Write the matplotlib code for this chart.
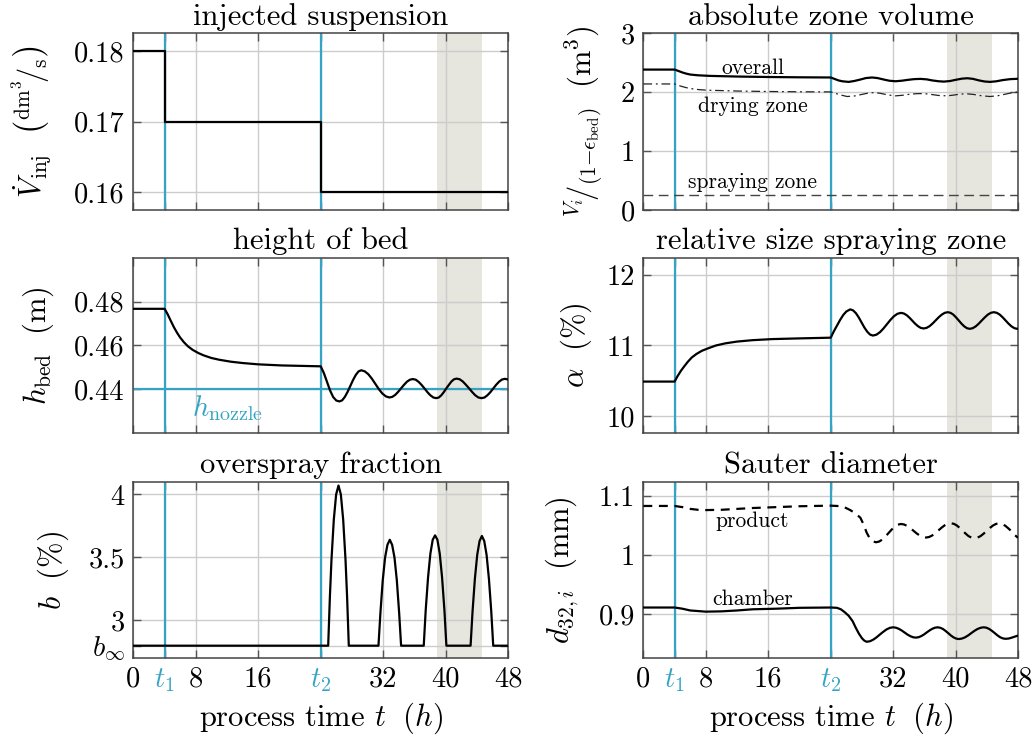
"""Fluidized bed granulation: process time series for six quantities."""
import matplotlib
matplotlib.use("Agg")
import matplotlib.pyplot as plt

plt.rcParams["font.family"] = "serif"
plt.rcParams["font.serif"] = ["cmr10"]
plt.rcParams["mathtext.fontset"] = "cm"
plt.rcParams["axes.formatter.use_mathtext"] = True
plt.rcParams["axes.unicode_minus"] = False

CYAN = "#35a4c4"
SHADE = "#e6e6df"
GRID = "#cccccc"
TICK = "#555555"

# characteristic times (h) and the highlighted window
T1, T2 = 4, 24
WINDOW = (38.9, 44.7)
XTICKS = [0, 4, 8, 16, 24, 32, 40, 48]
XTICKLABELS = ["0", "$t_1$", "8", "16", "$t_2$", "32", "40", "48"]

# injected suspension (dm^3/s)
SUSP_T = [0, 4, 4, 24, 24, 48]
SUSP_V = [0.18, 0.18, 0.17, 0.17, 0.16, 0.16]

# height of bed (m)
H_NOZZLE = 0.44
HBED_T = [0, 4, 4.4, 4.8, 5.2, 5.6, 6.0, 6.5, 7.0, 7.6, 8.3, 9.0, 10.0, 11.0, 12.5, 14.0, 16.0, 19.0,
          24.0, 24.4, 24.8, 25.2, 25.6, 26.0, 26.4, 26.75, 27.1, 27.45, 27.8, 28.15, 28.5, 28.85, 29.2,
          29.65, 30.1, 30.55, 31.0, 31.45, 31.9, 32.35, 32.8, 33.18, 33.55, 33.93, 34.3, 34.68, 35.05,
          35.43, 35.8, 36.18, 36.55, 36.93, 37.3, 37.68, 38.05, 38.43, 38.8, 39.13, 39.45, 39.78, 40.1,
          40.43, 40.75, 41.08, 41.4, 41.8, 42.2, 42.6, 43.0, 43.4, 43.8, 44.2, 44.6, 44.98, 45.35, 45.73,
          46.1, 46.48, 46.85, 47.23, 47.6, 48.0]
HBED_V = [0.4767, 0.4767, 0.4742, 0.4712, 0.4683, 0.4658, 0.4636, 0.4614, 0.4596, 0.458, 0.4566, 0.4555,
          0.4543, 0.4535, 0.4526, 0.452, 0.4514, 0.4509,
          0.4505, 0.4475, 0.4435, 0.4395, 0.4365, 0.4349, 0.4345, 0.4350, 0.4366, 0.4389, 0.4416, 0.4443,
          0.4466, 0.4482, 0.4487, 0.4482, 0.4469, 0.4449, 0.4425, 0.4401, 0.4381, 0.4368, 0.4363, 0.4366,
          0.4375, 0.4389, 0.4405, 0.4421, 0.4435, 0.4444, 0.4447, 0.4444, 0.4434, 0.4420, 0.4404, 0.4387,
          0.4373, 0.4363, 0.4360, 0.4363, 0.4373, 0.4388, 0.4405, 0.4421, 0.4436, 0.4446, 0.4449, 0.4446,
          0.4436, 0.4421, 0.4405, 0.4388, 0.4373, 0.4363, 0.4360, 0.4363, 0.4373, 0.4387, 0.4404, 0.4421,
          0.4435, 0.4445, 0.4448, 0.4445]

# overspray fraction (%)
B_INF = 2.8
OVER_T = [0, 24.96, 25.18, 25.38, 25.68, 25.98, 26.28, 26.58, 26.88, 27.18, 27.38, 27.6,
          31.4, 31.65, 31.95, 32.25, 32.55, 32.85, 33.15, 33.45, 33.75, 34.05, 34.3,
          37.2, 37.45, 37.75, 38.05, 38.35, 38.65, 38.95, 39.25, 39.55, 39.85, 40.1,
          43.2, 43.45, 43.75, 44.05, 44.35, 44.65, 44.95, 45.25, 45.55, 45.85, 46.1, 48]
OVER_V = [2.8, 2.8, 3.19, 3.48, 3.80, 4.00, 4.07, 4.00, 3.80, 3.48, 3.19, 2.8,
          2.8, 3.06, 3.32, 3.50, 3.60, 3.64, 3.60, 3.50, 3.32, 3.06, 2.8,
          2.8, 3.08, 3.34, 3.53, 3.64, 3.675, 3.64, 3.53, 3.34, 3.08, 2.8,
          2.8, 3.07, 3.33, 3.52, 3.63, 3.67, 3.63, 3.52, 3.33, 3.07, 2.8, 2.8]

# absolute zone volumes (m^3)
OVERALL_T = [0, 4, 4.5, 5, 5.5, 6, 7, 8.5, 12, 16, 20, 24, 24.5, 25.0, 25.5, 26.3, 27.0, 27.8, 28.5,
             29.3, 30.0, 30.8, 31.5, 32.3, 33.1, 33.9, 34.7, 35.5, 36.3, 37.0, 37.8, 38.5, 39.3, 40.0,
             40.8, 41.5, 42.2, 43.0, 43.7, 44.4, 45.2, 46.0, 47.0, 48.0]
OVERALL_V = [2.384, 2.384, 2.36, 2.335, 2.315, 2.3, 2.287, 2.277, 2.266, 2.258, 2.253, 2.25, 2.225, 2.2,
             2.185, 2.175, 2.19, 2.215, 2.24, 2.25, 2.24, 2.215, 2.195, 2.186, 2.195, 2.21, 2.222, 2.226,
             2.218, 2.2, 2.186, 2.18, 2.19, 2.21, 2.23, 2.237, 2.227, 2.2, 2.182, 2.175, 2.185, 2.205,
             2.222, 2.228]
DRYING_T = [0, 4, 4.5, 5, 5.5, 6, 7, 8.2, 12, 16, 20, 24, 24.5, 25.2, 26.1, 27.0, 27.9, 28.8, 29.6,
            30.4, 31.4, 32.3, 33.2, 34.1, 35.0, 35.9, 36.7, 37.8, 38.9, 39.8, 40.6, 41.5, 42.3, 43.3,
            44.4, 45.4, 46.3, 47.2, 48]
DRYING_V = [2.14, 2.14, 2.115, 2.095, 2.077, 2.063, 2.045, 2.034, 2.02, 2.012, 2.007, 2.005, 1.985, 1.955,
            1.927, 1.935, 1.96, 1.985, 1.994, 1.98, 1.952, 1.938, 1.948, 1.965, 1.975, 1.977, 1.965, 1.945,
            1.938, 1.952, 1.968, 1.972, 1.962, 1.94, 1.927, 1.94, 1.965, 1.99, 2.005]
SPRAY_T = [0, 48]
SPRAY_V = [0.26, 0.26]

# relative size of the spraying zone (%)
ALPHA_T = [0, 4, 4.4, 4.8, 5.2, 5.7, 6.2, 6.8, 7.5, 8.3, 9.3, 10.5, 12.0, 14.0, 16.5, 20.0,
           24.0, 24.4, 24.8, 25.2, 25.6, 26.0, 26.5, 26.86, 27.23, 27.59, 27.95, 28.31, 28.68, 29.04,
           29.4, 29.85, 30.3, 30.75, 31.2, 31.65, 32.1, 32.55, 33.0, 33.36, 33.73, 34.09, 34.45, 34.81,
           35.18, 35.54, 35.9, 36.29, 36.68, 37.06, 37.45, 37.84, 38.23, 38.61, 39.0, 39.35, 39.7, 40.05,
           40.4, 40.75, 41.1, 41.45, 41.8, 42.19, 42.58, 42.96, 43.35, 43.74, 44.13, 44.51, 44.9, 45.28,
           45.65, 46.03, 46.4, 46.78, 47.15, 47.53, 47.9, 48.0]
ALPHA_V = [10.49, 10.49, 10.57, 10.64, 10.7, 10.77, 10.83, 10.88, 10.925, 10.96, 11.0, 11.03, 11.055,
           11.075, 11.09, 11.1,
           11.11, 11.2, 11.28, 11.36, 11.43, 11.48, 11.51, 11.496, 11.456, 11.396, 11.325, 11.254, 11.194,
           11.154, 11.14, 11.152, 11.187, 11.239, 11.3, 11.361, 11.413, 11.448, 11.46, 11.452, 11.428,
           11.392, 11.35, 11.308, 11.272, 11.248, 11.24, 11.249, 11.274, 11.311, 11.355, 11.399, 11.436,
           11.461, 11.47, 11.461, 11.436, 11.397, 11.353, 11.308, 11.27, 11.244, 11.235, 11.244, 11.27,
           11.308, 11.353, 11.397, 11.436, 11.461, 11.47, 11.461, 11.436, 11.397, 11.353, 11.308, 11.27,
           11.244, 11.235, 11.236]

# Sauter diameters (mm)
PRODUCT_T = [0, 4, 5, 6, 7, 8, 10, 12, 14, 17, 20, 24, 25.5, 26.5, 27.2, 27.8, 28.2, 28.6, 29.0, 29.4,
             29.8, 30.2, 30.6, 31.0, 31.4, 31.8, 32.2, 32.6, 33.0, 33.4, 33.8, 34.2, 34.6, 35.0, 35.4,
             35.8, 36.2, 36.6, 37.0, 37.4, 37.8, 38.2, 38.6, 39.0, 39.4, 39.78, 40.15, 40.53, 40.9, 41.28,
             41.65, 42.03, 42.4, 42.8, 43.2, 43.6, 44.0, 44.4, 44.8, 45.2, 45.6, 46.0, 46.4, 46.8, 47.2,
             47.6, 48.0]
PRODUCT_V = [1.083, 1.083, 1.081, 1.078, 1.0765, 1.076, 1.0765, 1.078, 1.0795, 1.081, 1.0825, 1.0835,
             1.0825, 1.076, 1.07, 1.063, 1.052, 1.038, 1.028, 1.023, 1.0215, 1.0227, 1.026, 1.0311, 1.037,
             1.0429, 1.048, 1.0513, 1.0525, 1.0516, 1.0491, 1.0454, 1.041, 1.0366, 1.0329, 1.0304, 1.0295,
             1.0304, 1.033, 1.037, 1.0416, 1.0462, 1.0502, 1.0528, 1.0537, 1.0527, 1.05, 1.0458, 1.041,
             1.0362, 1.032, 1.0293, 1.0283, 1.0293, 1.032, 1.0362, 1.041, 1.0458, 1.05, 1.0527, 1.0537,
             1.0525, 1.049, 1.0445, 1.0395, 1.0335, 1.029]
CHAMBER_T = [0, 4, 5, 6, 7, 8, 10, 12, 14, 17, 20, 24, 24.8, 25.3, 25.8, 26.3, 26.8, 27.2, 27.6, 28.0,
             28.3, 28.6, 29.03, 29.45, 29.88, 30.3, 30.73, 31.15, 31.58, 32.0, 32.36, 32.73, 33.09, 33.45,
             33.81, 34.18, 34.54, 34.9, 35.25, 35.6, 35.95, 36.3, 36.65, 37.0, 37.35, 37.7, 38.04, 38.38,
             38.71, 39.05, 39.39, 39.73, 40.06, 40.4, 40.8, 41.2, 41.6, 42.0, 42.4, 42.8, 43.2, 43.6,
             43.95, 44.3, 44.65, 45.0, 45.35, 45.7, 46.05, 46.4, 46.8, 47.2, 47.6, 48.0]
CHAMBER_V = [0.911, 0.911, 0.909, 0.906, 0.905, 0.904, 0.9045, 0.906, 0.908, 0.909, 0.9105, 0.911,
             0.9105, 0.908, 0.903, 0.897, 0.888, 0.877, 0.867, 0.859, 0.855, 0.853, 0.8539, 0.8566,
             0.8606, 0.8653, 0.8699, 0.8739, 0.8766, 0.8775, 0.8768, 0.8749, 0.8721, 0.8688, 0.8654,
             0.8626, 0.8607, 0.86, 0.8607, 0.8626, 0.8654, 0.8688, 0.8721, 0.8749, 0.8768, 0.8775, 0.8767,
             0.8746, 0.8714, 0.8676, 0.8637, 0.8605, 0.8584, 0.8576, 0.8584, 0.8605, 0.8637, 0.8676,
             0.8714, 0.8746, 0.8767, 0.8775, 0.8768, 0.8747, 0.8715, 0.8678, 0.8639, 0.8607, 0.8587,
             0.858, 0.8585, 0.86, 0.8618, 0.8635]

TICK_FS = 20.5
LABEL_FS = 22
NOTE_FS = 15.5


def setup_axis(ax, title, ylabel, ylim, yticks, yticklabels, label_x, bottom=False):
    ax.axvspan(*WINDOW, color=SHADE, lw=0, zorder=0.2)
    ax.set_axisbelow(True)
    ax.grid(True, color=GRID, lw=1.0)
    ax.axvline(T1, color=CYAN, lw=1.6, zorder=1.5)
    ax.axvline(T2, color=CYAN, lw=1.6, zorder=1.5)
    ax.set_xlim(0, 48)
    ax.set_ylim(*ylim)
    ax.set_xticks(XTICKS)
    ax.set_yticks(yticks)
    ax.set_yticklabels(yticklabels, fontsize=TICK_FS)
    if bottom:
        ax.set_xticklabels(XTICKLABELS, fontsize=TICK_FS)
        for lab in ax.get_xticklabels():
            if "t_" in lab.get_text():
                lab.set_color(CYAN)
        ax.set_xlabel(r"process time $t\ \ (h)$", fontsize=LABEL_FS, labelpad=4)
    else:
        ax.set_xticklabels([])
    ax.tick_params(direction="in", top=True, right=True, length=6, width=1, color=TICK, pad=6)
    for sp in ax.spines.values():
        sp.set_color("#444444")
        sp.set_linewidth(1.1)
    ax.set_title(title, fontsize=LABEL_FS, pad=6)
    ax.set_ylabel(ylabel, fontsize=LABEL_FS, va="center")
    ax.yaxis.set_label_coords(label_x, 0.5)


fig = plt.figure(figsize=(10.36, 7.40), dpi=100)
left_x, right_x, width = 0.1287, 0.621, 0.3617
rows = [(0.7162, 0.2388), (0.4145, 0.2373), (0.1104, 0.2386)]
ax_susp = fig.add_axes([left_x, rows[0][0], width, rows[0][1]])
ax_hbed = fig.add_axes([left_x, rows[1][0], width, rows[1][1]])
ax_over = fig.add_axes([left_x, rows[2][0], width, rows[2][1]])
ax_vol = fig.add_axes([right_x, rows[0][0], width, rows[0][1]])
ax_alpha = fig.add_axes([right_x, rows[1][0], width, rows[1][1]])
ax_d32 = fig.add_axes([right_x, rows[2][0], width, rows[2][1]])

# left column
setup_axis(ax_susp, "injected suspension",
           r"$\dot{V}_{\mathrm{inj}}\ \ \left(^{\mathrm{dm}^3}\!/_{\mathrm{s}}\right)$",
           (0.1575, 0.1825), [0.16, 0.17, 0.18], ["0.16", "0.17", "0.18"], -0.27)
ax_susp.plot(SUSP_T, SUSP_V, color="black", lw=1.6, zorder=3)

setup_axis(ax_hbed, "height of bed", r"$h_{\mathrm{bed}}\ \ (\mathrm{m})$",
           (0.42, 0.50), [0.44, 0.46, 0.48], ["0.44", "0.46", "0.48"], -0.255)
ax_hbed.axhline(H_NOZZLE, color=CYAN, lw=1.6, zorder=1.5)
ax_hbed.plot(HBED_T, HBED_V, color="black", lw=1.6, zorder=3)
ax_hbed.text(12, 0.428, r"$h_{\mathrm{nozzle}}$", color=CYAN, fontsize=TICK_FS, ha="center", va="baseline")

setup_axis(ax_over, "overspray fraction", r"$b\ \ (\%)$",
           (2.7, 4.1), [B_INF, 3, 3.5, 4], [r"$b_\infty$", "3", "3.5", "4"], -0.215, bottom=True)
ax_over.plot(OVER_T, OVER_V, color="black", lw=1.6, zorder=3)

# right column
setup_axis(ax_vol, "absolute zone volume",
           r"$^{V_i}\!/_{(1{-}\epsilon_{\mathrm{bed}})}\ \ (\mathrm{m}^3)$",
           (0, 3), [0, 1, 2, 3], ["0", "1", "2", "3"], -0.16)
ax_vol.plot(OVERALL_T, OVERALL_V, color="black", lw=1.6, zorder=3)
ax_vol.plot(DRYING_T, DRYING_V, color="#222222", lw=0.9, ls=(0, (7, 3, 1.5, 3)), zorder=3)
ax_vol.plot(SPRAY_T, SPRAY_V, color="#444444", lw=1.0, ls=(0, (7, 4)), zorder=3)
ax_vol.text(14, 2.305, "overall", fontsize=NOTE_FS, ha="center", va="baseline")
ax_vol.text(14, 1.666, "drying zone", fontsize=NOTE_FS, ha="center", va="baseline")
ax_vol.text(14, 0.367, "spraying zone", fontsize=NOTE_FS, ha="center", va="baseline")

setup_axis(ax_alpha, "relative size spraying zone", r"$\alpha\ \ (\%)$",
           (9.76, 12.24), [10, 11, 12], ["10", "11", "12"], -0.18)
ax_alpha.plot(ALPHA_T, ALPHA_V, color="black", lw=1.6, zorder=3)

setup_axis(ax_d32, "Sauter diameter", r"$d_{32,i}\ \ (\mathrm{mm})$",
           (0.825, 1.124), [0.9, 1.0, 1.1], ["0.9", "1", "1.1"], -0.215, bottom=True)
ax_d32.plot(PRODUCT_T, PRODUCT_V, color="black", lw=1.6, ls=(0, (4, 3)), zorder=3)
ax_d32.plot(CHAMBER_T, CHAMBER_V, color="black", lw=1.6, zorder=3)
ax_d32.text(14, 1.048, "product", fontsize=NOTE_FS, ha="center", va="baseline")
ax_d32.text(14, 0.915, "chamber", fontsize=NOTE_FS, ha="center", va="baseline")

fig.savefig("out.png", dpi=100)
